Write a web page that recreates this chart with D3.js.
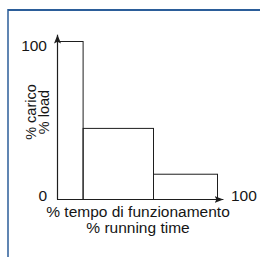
<!DOCTYPE html>
<html>
<head>
<meta charset="utf-8">
<script src="https://d3js.org/d3.v7.min.js"></script>
<style>
  html, body { margin: 0; padding: 0; background: #fff; }
  svg text { font-family: "Liberation Sans", Arial, sans-serif; fill: #151515; }
</style>
</head>
<body>
<div id="chart"></div>
<script>
/* Load profile: stepped duty cycle (% load vs % running time) */

const timeBreaks  = [0, 16, 60, 100];   // step boundaries on the x axis
const loadLevels  = [100, 45, 16];      // load for each step
const yTickLabels = ['0', '100'];
const xTickLabels = ['100'];
const yTitle = ['% carico', '% load'];
const xTitle = ['% tempo di funzionamento', '% running time'];

const W = 260, H = 257;
const INK = '#1e1e1e';
const FRAME = '#2b5d99';
const FS = 15.5;

const svg = d3.select('#chart').append('svg')
  .attr('width', W)
  .attr('height', H);

svg.append('rect').attr('width', W).attr('height', H).attr('fill', '#fff');

/* Blue frame: top rule + left rule */
svg.append('line')
  .attr('x1', 8).attr('y1', 10).attr('x2', W).attr('y2', 10)
  .attr('stroke', FRAME).attr('stroke-width', 2);
svg.append('line')
  .attr('x1', 8).attr('y1', 9).attr('x2', 8).attr('y2', H)
  .attr('stroke', FRAME).attr('stroke-width', 1.5);

const x = d3.scaleLinear().domain([0, 100]).range([57, 217]);
const y = d3.scaleLinear().domain([0, 100]).range([199, 41]);

/* Arrowhead */
svg.append('defs').append('marker')
  .attr('id', 'arrow')
  .attr('viewBox', '0 0 10 8')
  .attr('refX', 10).attr('refY', 4)
  .attr('markerWidth', 9).attr('markerHeight', 7)
  .attr('markerUnits', 'userSpaceOnUse')
  .attr('orient', 'auto')
  .append('path')
  .attr('d', 'M0,0 L10,4 L0,8 L2,4 Z')
  .attr('fill', INK);

/* Steps */
const steps = loadLevels.map((v, i) => ({ x0: timeBreaks[i], x1: timeBreaks[i + 1], v }));

svg.append('g')
  .selectAll('rect')
  .data(steps)
  .join('rect')
  .attr('x', d => x(d.x0) + 0.5)
  .attr('y', d => y(d.v) + 0.5)
  .attr('width', d => x(d.x1) - x(d.x0))
  .attr('height', d => y(0) - y(d.v))
  .attr('fill', 'none')
  .attr('stroke', INK)
  .attr('stroke-width', 1);

/* Axes with arrows */
svg.append('line')
  .attr('x1', x(0) + 0.5).attr('y1', y(0) + 0.5)
  .attr('x2', x(0) + 0.5).attr('y2', y(104))
  .attr('stroke', INK).attr('stroke-width', 1.2)
  .attr('marker-end', 'url(#arrow)');
svg.append('line')
  .attr('x1', x(0)).attr('y1', y(0) + 0.5)
  .attr('x2', x(104)).attr('y2', y(0) + 0.5)
  .attr('stroke', INK).attr('stroke-width', 1.2)
  .attr('marker-end', 'url(#arrow)');

/* Tick labels: top label hangs from the 100 line, 0 sits on the axis */
svg.append('g')
  .selectAll('text')
  .data(yTickLabels)
  .join('text')
  .attr('x', x(0) - 10)
  .attr('y', d => +d === 0 ? y(0) + 1.5 : y(+d) + 9.5)
  .attr('text-anchor', 'end')
  .attr('font-size', FS)
  .text(d => d);

svg.append('g')
  .selectAll('text')
  .data(xTickLabels)
  .join('text')
  .attr('x', x(+xTickLabels[0]) + 14)
  .attr('y', y(0) + 1.5)
  .attr('font-size', FS)
  .text(d => d);

/* Axis titles */
svg.append('g')
  .attr('transform', `translate(36,112) rotate(-90)`)
  .selectAll('text')
  .data(yTitle)
  .join('text')
  .attr('x', 0)
  .attr('y', (d, i) => i * 12.5)
  .attr('text-anchor', 'middle')
  .attr('font-size', FS - 1)
  .text(d => d);

svg.append('g')
  .selectAll('text')
  .data(xTitle)
  .join('text')
  .attr('x', 138)
  .attr('y', (d, i) => 217 + i * 15.5)
  .attr('text-anchor', 'middle')
  .attr('font-size', FS)
  .text(d => d);
</script>
</body>
</html>
